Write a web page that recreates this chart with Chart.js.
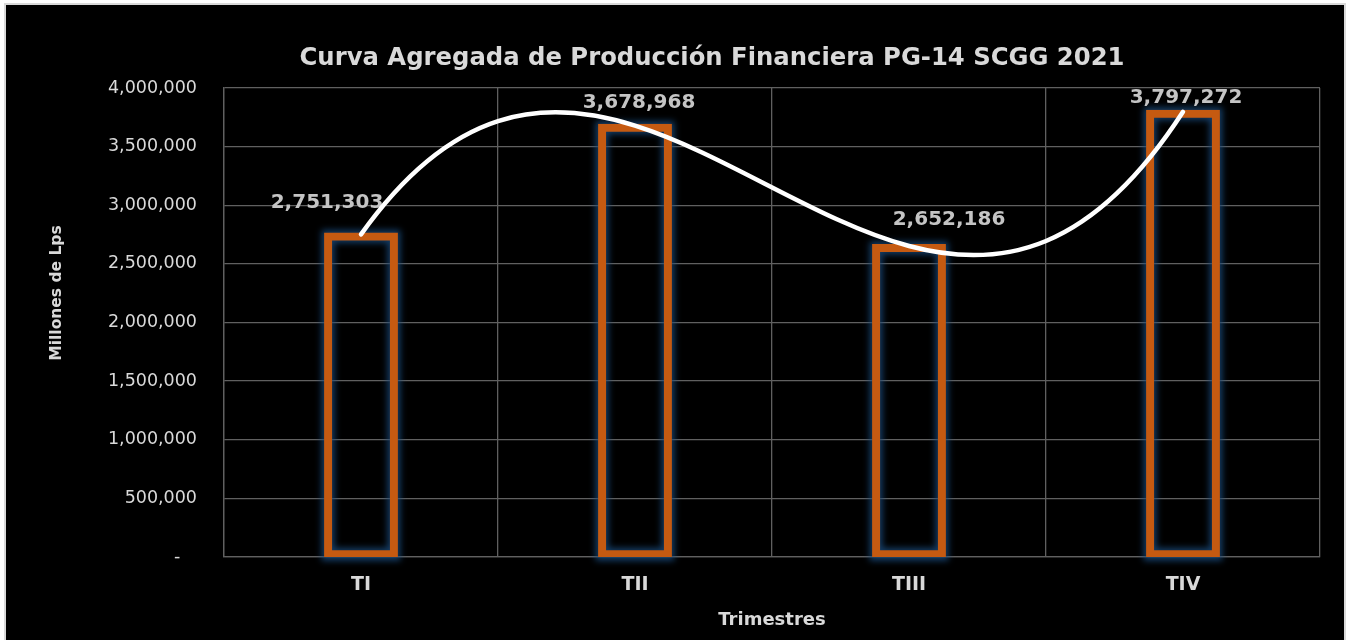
<!DOCTYPE html>
<html><head><meta charset="utf-8">
<script src="https://cdn.jsdelivr.net/npm/chart.js@4/dist/chart.umd.min.js"></script>
<style>html,body{margin:0;padding:0;background:#fff;} canvas{display:block;}</style>
</head><body>
<canvas id="c" width="1348" height="640"></canvas>
<script>
// ---- data ----
const categories = ['TI', 'TII', 'TIII', 'TIV'];
const values = [2751303, 3678968, 2652186, 3797272];
const yMin = 0, yMax = 4000000, yStep = 500000;
const titleText = 'Curva Agregada de Producción Financiera PG-14 SCGG 2021';
const yTitleText = 'Millones de Lps';
const xTitleText = 'Trimestres';

// ---- style ----
const FONT = "'DejaVu Sans', sans-serif";
const GRID = '#606060';
const TEXT = '#D9D9D9';
const LABEL = '#C4C4C4';
const labelNudge = [{dx: -34, dy: -32}, {dx: 4, dy: -23}, {dx: 40, dy: -26}, {dx: 3, dy: -14}];

// slope of the order-3 polynomial trendline (exact through the points) at index i
function polySlope(ys, i) {
  const n = ys.length; let s = 0;
  for (let j = 0; j < n; j++) {
    let dj = 0;
    for (let k = 0; k < n; k++) {
      if (k === j) continue;
      let term = 1 / (j - k);
      for (let m = 0; m < n; m++) {
        if (m === j || m === k) continue;
        term *= (i - m) / (j - m);
      }
      dj += term;
    }
    s += ys[j] * dj;
  }
  return s;
}

const framePlugin = {
  id: 'frame',
  beforeDraw(chart) {
    const c = chart.ctx, W = chart.width, H = chart.height;
    c.save();
    c.fillStyle = '#ffffff'; c.fillRect(0, 0, W, H);
    c.fillStyle = '#d9d9d9'; c.fillRect(4, 3, 1342, H - 3);
    c.fillStyle = '#000000'; c.fillRect(6, 5, 1338, H - 5);
    c.restore();
  }
};

const trendCurve = {
  id: 'trendCurve',
  beforeDatasetDraw(chart, args) {
    const meta = args.meta;
    if (meta.type !== 'line') return;
    const pts = meta.data, n = pts.length;
    if (n < 2) return;
    const ys = pts.map(p => p.y);
    const h = (pts[n - 1].x - pts[0].x) / (n - 1);
    pts.forEach((p, i) => {
      const d = polySlope(ys, i) / 3;
      p.cp1x = p.x - h / 3; p.cp1y = p.y - d;
      p.cp2x = p.x + h / 3; p.cp2y = p.y + d;
    });
    meta.dataset._pointsUpdated = true;
    meta.dataset._path = undefined;
  }
};

const barGlow = {
  id: 'barGlow',
  beforeDatasetDraw(chart, args) {
    if (args.meta.type !== 'bar') return;
    const c = chart.ctx;
    c.save();
    c.filter = 'blur(3px)';
    c.strokeStyle = 'rgba(25,75,125,0.8)';
    c.lineWidth = 13;
    args.meta.data.forEach(el => {
      const {x, y, base, width} = el.getProps(['x', 'y', 'base', 'width'], true);
      const l = x - width / 2 - 2, r = x + width / 2 + 2;
      const t = Math.min(y, base) - 2, b = Math.max(y, base) + 2;
      c.strokeRect(l + 4, t + 4, r - l - 8, b - t - 8);
    });
    c.restore();
  },
  afterDatasetDraw(chart, args) {
    if (args.meta.type !== 'bar') return;
    const c = chart.ctx;
    c.save();
    c.font = 'bold 20px ' + FONT;
    c.fillStyle = LABEL;
    c.textAlign = 'center';
    c.textBaseline = 'middle';
    args.meta.data.forEach((el, i) => {
      const nd = labelNudge[i] || {dx: 0, dy: -20};
      c.fillText(values[i].toLocaleString('en-US'), el.x + nd.dx, el.y + nd.dy);
    });
    c.restore();
  }
};

const texts = {
  id: 'texts',
  afterDraw(chart) {
    const c = chart.ctx;
    c.save();
    c.fillStyle = TEXT;
    c.font = 'bold 24.3px ' + FONT;
    c.textAlign = 'center';
    c.textBaseline = 'alphabetic';
    c.fillText(titleText, 712, 65);
    c.translate(57, 293);
    c.rotate(-Math.PI / 2);
    c.font = 'bold 15.5px ' + FONT;
    c.textBaseline = 'middle';
    c.fillText(yTitleText, 0, 0);
    c.restore();
  }
};

new Chart(document.getElementById('c'), {
  type: 'bar',
  data: {
    labels: categories,
    datasets: [
      {type: 'line', label: 'Tendencia', data: values, borderColor: '#ffffff', borderWidth: 4.5,
       pointRadius: 0, pointHoverRadius: 0, tension: 0.4, borderCapStyle: 'round', borderJoinStyle: 'round',
       fill: false, order: 0},
      {type: 'bar', label: 'Producción', data: values, backgroundColor: 'rgba(0,0,0,0)',
       borderColor: '#C55A11', borderWidth: 4, inflateAmount: 2, borderSkipped: false,
       barPercentage: 0.255, categoryPercentage: 1, order: 1}
    ]
  },
  options: {
    responsive: false,
    animation: false,
    devicePixelRatio: 1,
    layout: {padding: {top: 88, right: 28, bottom: 0, left: 0}},
    plugins: {legend: {display: false}, tooltip: {enabled: false}, title: {display: false}},
    scales: {
      x: {
        grid: {color: GRID, lineWidth: 1.3, drawTicks: false, offset: true},
        border: {color: GRID, width: 1.3},
        ticks: {color: TEXT, font: {family: FONT, size: 19, weight: 'bold'}, padding: 17},
        title: {display: true, text: xTitleText, color: TEXT, font: {family: FONT, size: 18, weight: 'bold'}, padding: {top: 0, bottom: 9}},
        afterFit(s) { s.height = 83; }
      },
      y: {
        min: yMin, max: yMax,
        grid: {color: GRID, lineWidth: 1.3, drawTicks: false},
        border: {color: GRID, width: 1.3},
        ticks: {stepSize: yStep, color: TEXT, font: {family: FONT, size: 17.5}, padding: 27,
                callback: v => v === 0 ? '-   ' : Number(v).toLocaleString('en-US')},
        afterFit(s) { s.width = 224; }
      }
    }
  },
  plugins: [framePlugin, barGlow, trendCurve, texts]
});
</script>
</body></html>
